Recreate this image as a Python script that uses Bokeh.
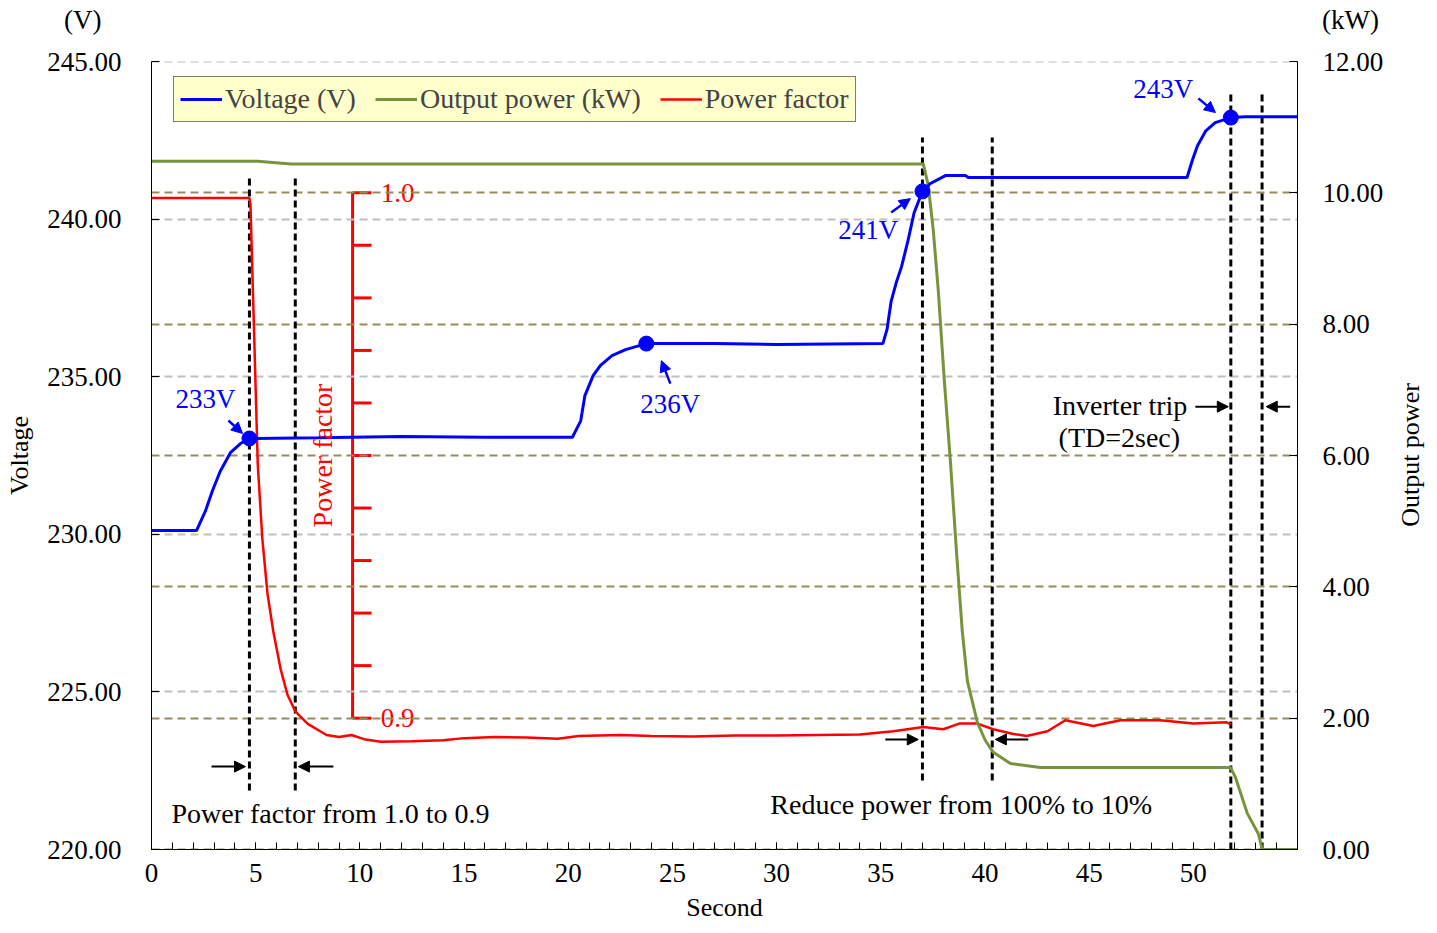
from bokeh.plotting import figure
from bokeh.layouts import column, row
from bokeh.models import (Range1d, LinearAxis, FixedTicker, PrintfTickFormatter,
                          Label, Arrow, NormalHead, Legend, LegendItem, Div)
from bokeh.core.properties import value
from bokeh.embed import file_html
from bokeh.resources import INLINE

# ---------------- data ----------------
time_v = [0, 2.16, 2.6, 2.93, 3.3, 3.8, 4.27, 4.7, 8.0, 12.0, 16.0, 20.2, 20.6, 20.8,
          21.2, 21.55, 22.1, 22.75, 23.75, 27.0, 30.0, 35.1, 35.3, 35.5, 35.75, 36.0,
          36.3, 36.6, 37.0, 37.38, 38.1, 39.06, 39.2, 45.0, 49.7, 49.95, 50.2, 50.6,
          51.05, 51.8, 52.5, 55.0]
voltage = [230.12, 230.12, 230.76, 231.39, 232.0, 232.6, 232.88, 233.04, 233.06, 233.1,
           233.08, 233.08, 233.6, 234.4, 235.04, 235.36, 235.67, 235.86, 236.05, 236.05,
           236.02, 236.05, 236.5, 237.4, 238.0, 238.5, 239.3, 240.2, 240.88, 241.13,
           241.38, 241.38, 241.32, 241.32, 241.32, 241.86, 242.33, 242.8, 243.06, 243.22,
           243.25, 243.25]

time_p = [0, 5.1, 6.7, 10, 20, 30, 37.04, 37.28, 37.52, 37.76, 38.05, 38.34, 38.63, 38.91,
          39.16, 39.64, 40.02, 40.40, 41.22, 42.66, 51.78, 52.02, 52.59, 53.12, 53.31, 55.0]
power = [10.48, 10.48, 10.44, 10.44, 10.44, 10.44, 10.44, 10.11, 9.43, 8.51, 7.14, 5.92,
         4.55, 3.33, 2.56, 1.93, 1.66, 1.48, 1.31, 1.25, 1.25, 1.10, 0.55, 0.24, 0.0, 0.0]

time_pf = [0, 4.7, 4.75, 4.9, 5.1, 5.32, 5.57, 5.85, 6.2, 6.53, 6.9, 7.5, 8.4, 9.0, 9.6,
           10.2, 11.0, 12.5, 14.0, 15.0, 16.5, 18.0, 19.5, 20.5, 22.5, 24.0, 26.0, 28.0,
           30.0, 32.0, 34.0, 35.6, 37.04, 38.0, 38.8, 39.6, 40.4, 41.36, 42.0, 43.0,
           43.86, 45.2, 46.5, 48.4, 50.0, 51.6, 51.8]
power_factor = [0.9990, 0.9990, 0.9978, 0.9767, 0.9483, 0.9341, 0.9236, 0.9164, 0.9093,
                0.9044, 0.9013, 0.8989, 0.8968, 0.8964, 0.8968, 0.8960, 0.8955, 0.8956,
                0.8958, 0.8962, 0.8964, 0.8963, 0.8961, 0.8966, 0.8968, 0.8966, 0.8965,
                0.8967, 0.8967, 0.8968, 0.8969, 0.8975, 0.8983, 0.8979, 0.8990, 0.8990,
                0.8979, 0.8970, 0.8966, 0.8975, 0.8996, 0.8985, 0.8996, 0.8996, 0.8990,
                0.8992, 0.8988]

marker_t = [4.7, 23.75, 37.0, 51.8]
marker_v = [233.04, 236.05, 240.88, 243.22]
marker_text = ["233V", "236V", "241V", "243V"]

x_ticks = [0, 5, 10, 15, 20, 25, 30, 35, 40, 45, 50]
x_minor = list(range(0, 56))
volt_ticks = [220, 225, 230, 235, 240, 245]
power_ticks = [0, 2, 4, 6, 8, 10, 12]
pf_ticks = [0.90, 0.91, 0.92, 0.93, 0.94, 0.95, 0.96, 0.97, 0.98, 0.99, 1.00]
pf_tick_labels = ["0.9", "1.0"]

event_t = [4.7, 6.9, 37.0, 40.35, 51.8, 53.3]
event_v0 = [221.87, 221.87, 222.19, 222.19, 220.0, 220.0]
event_v1 = [241.38, 241.38, 242.59, 242.59, 244.08, 244.08]

FONT = "Liberation Serif"
BLUE = "#0000ff"
GREEN = "#77933c"
RED = "#ff0000"
OLIVE = "#968c5a"
GRAY = "#c0c0c0"
TOP_H = 40
RIGHT_W = 32
P_TOP, P_BOTTOM, P_LEFT, P_RIGHT = 61 - TOP_H, 84, 151, 100
FRAME_W, FRAME_H = 1146, 788

p = figure(frame_width=FRAME_W, frame_height=FRAME_H,
           x_range=Range1d(0, 55), y_range=Range1d(220, 245),
           output_backend="svg", toolbar_location=None,
           min_border_left=P_LEFT, min_border_right=P_RIGHT,
           min_border_top=P_TOP, min_border_bottom=P_BOTTOM)
p.extra_y_ranges = {"power": Range1d(0, 12), "pf": Range1d(0.875, 1.025)}
p.outline_line_color = None
p.xgrid.visible = False
p.ygrid.visible = False
p.background_fill_color = "white"


def style_axis(ax, label, size, standoff, label_standoff):
    ax.major_tick_out = 0
    ax.major_label_standoff = standoff
    ax.major_label_text_font = FONT
    ax.major_label_text_font_size = size
    ax.major_label_text_color = "black"
    ax.axis_line_color = "black"
    ax.major_tick_line_color = "black"
    ax.axis_label = label
    ax.axis_label_text_font = FONT
    ax.axis_label_text_font_style = "normal"
    ax.axis_label_text_font_size = "26px"
    ax.axis_label_text_color = "black"
    ax.axis_label_standoff = label_standoff


# axes
xa = p.xaxis[0]
xa.ticker = FixedTicker(ticks=x_ticks, minor_ticks=x_minor)
style_axis(xa, "Second", "27px", 14, 8)
xa.major_tick_in = 7
xa.minor_tick_in = 7
xa.minor_tick_out = 0
xa.minor_tick_line_color = "black"

ya = p.yaxis[0]
ya.ticker = FixedTicker(ticks=volt_ticks)
ya.formatter = PrintfTickFormatter(format="%.2f")
style_axis(ya, "Voltage", "27px", 30, 10)
ya.major_tick_in = 8
ya.minor_tick_line_color = None

ra = LinearAxis(y_range_name="power", ticker=FixedTicker(ticks=power_ticks),
                formatter=PrintfTickFormatter(format="%.2f"))
style_axis(ra, None, "27px", 25, 18)
ra.major_tick_in = 8
ra.minor_tick_line_color = None
p.add_layout(ra, "right")

# red power-factor scale (drawn before gridlines)
pf_axis_t = 9.65
pf_tick_len = 0.91
p.segment(x0=[pf_axis_t], y0=[min(pf_ticks)], x1=[pf_axis_t], y1=[max(pf_ticks)],
          y_range_name="pf", line_color=RED, line_width=3)
p.segment(x0=[pf_axis_t] * len(pf_ticks), y0=pf_ticks,
          x1=[pf_axis_t + pf_tick_len] * len(pf_ticks), y1=pf_ticks,
          y_range_name="pf", line_color=RED, line_width=3)
p.text(x=[pf_axis_t + 1.35] * 2, y=[0.90, 1.00], text=pf_tick_labels,
       y_range_name="pf", text_color=RED, text_font=value(FONT),
       text_font_size="27px", text_baseline="middle", text_align="left")

# gridlines
p.hspan(y=volt_ticks[1:], line_color=GRAY, line_dash="8 5", line_width=2)
p.hspan(y=power_ticks[:-1], y_range_name="power", line_color=OLIVE,
        line_dash="8 5", line_width=2)

# vertical event markers
p.segment(x0=event_t, y0=event_v0, x1=event_t, y1=event_v1,
          line_color="black", line_dash="7 4", line_width=3)

# data lines
r_pf = p.line(time_pf, power_factor, y_range_name="pf", line_color=RED, line_width=2.5)
r_p = p.line(time_p, power, y_range_name="power", line_color=GREEN, line_width=3)
r_v = p.line(time_v, voltage, line_color=BLUE, line_width=3)
p.scatter(marker_t, marker_v, size=15, color=BLUE)

# blue value labels with arrows
lab_t = [2.59, 24.9, 34.4, 48.56]
lab_v = [234.28, 234.12, 239.67, 244.14]
p.text(x=lab_t, y=lab_v, text=marker_text, text_color=BLUE, text_font=value(FONT),
       text_font_size="27px", text_align="center", text_baseline="middle")
arr_t0 = [3.69, 24.9, 35.5, 50.24]
arr_v0 = [233.61, 234.78, 240.21, 243.83]
arr_t1 = [4.37, 24.47, 36.42, 51.06]
arr_v1 = [233.2, 235.51, 240.65, 243.38]
for a, b, c, d in zip(arr_t0, arr_v0, arr_t1, arr_v1):
    p.add_layout(Arrow(x_start=a, y_start=b, x_end=c, y_end=d, line_color=BLUE,
                       line_width=2.5,
                       end=NormalHead(size=11, fill_color=BLUE, line_color=BLUE)))

# black arrows
blk = [(2.88, 222.63, 4.51, 222.63), (8.73, 222.63, 7.05, 222.63),
       (35.22, 223.49, 36.8, 223.49), (42.08, 223.49, 40.5, 223.49),
       (50.1, 234.05, 51.68, 234.05), (54.65, 234.05, 53.5, 234.05)]
for a, b, c, d in blk:
    p.add_layout(Arrow(x_start=a, y_start=b, x_end=c, y_end=d, line_color="black",
                       line_width=2,
                       end=NormalHead(size=11, fill_color="black", line_color="black")))


def lab(x, y, t, color="black", align="left", angle=0, size="28px"):
    p.add_layout(Label(x=x, y=y, text=t, text_color=color, text_font=FONT,
                       text_font_size=size, text_align=align, text_baseline="middle",
                       angle=angle))


lab(0.96, 221.14, "Power factor  from  1.0  to  0.9")
lab(29.7, 221.43, "Reduce  power  from  100%  to  10%")
lab(49.71, 234.09, "Inverter trip", align="right")
lab(46.45, 233.07, "(TD=2sec)", align="center")
lab(8.2, 232.5, "Power factor", color=RED, align="center", angle=1.5708)

legend = Legend(items=[LegendItem(label="Voltage (V)", renderers=[r_v]),
                       LegendItem(label="Output power (kW)", renderers=[r_p]),
                       LegendItem(label="Power factor", renderers=[r_pf])],
                orientation="horizontal", location=(22, 727),
                background_fill_color="#ffffcc", background_fill_alpha=1.0,
                border_line_color="black", border_line_width=1,
                label_text_font=FONT, label_text_font_size="28px",
                glyph_width=42, glyph_height=20, label_standoff=3,
                spacing=19, padding=6, margin=0)
p.add_layout(legend)

p_width = P_LEFT + FRAME_W + P_RIGHT
p_height = P_TOP + FRAME_H + P_BOTTOM
total_w = p_width + RIGHT_W

text_style = ("position:absolute;line-height:32px;white-space:nowrap;"
              "font-family:'Liberation Serif';color:black;")
top = Div(text=('<div style="position:relative;width:%dpx;height:%dpx;">'
                '<span style="%stop:4px;font-size:27px;left:64px;">(V)</span>'
                '<span style="%stop:4px;font-size:27px;left:1322px;">(kW)</span></div>')
               % (total_w, TOP_H, text_style, text_style),
          width=total_w, height=TOP_H, margin=0)

# right axis title, rotated to read bottom-to-top
mid_y = P_TOP + FRAME_H / 2
right = Div(text=('<div style="position:relative;width:%dpx;height:%dpx;">'
                  '<span style="%sfont-size:26px;left:%dpx;top:%dpx;'
                  'transform:translate(-50%%,-50%%) rotate(-90deg);">Output  power</span></div>')
                 % (RIGHT_W, p_height, text_style, RIGHT_W // 2 - 2, mid_y),
            width=RIGHT_W, height=p_height, margin=0)

layout = column(top, row(p, right, spacing=0), spacing=0)
open("out.html", "w").write(file_html(layout, INLINE))
